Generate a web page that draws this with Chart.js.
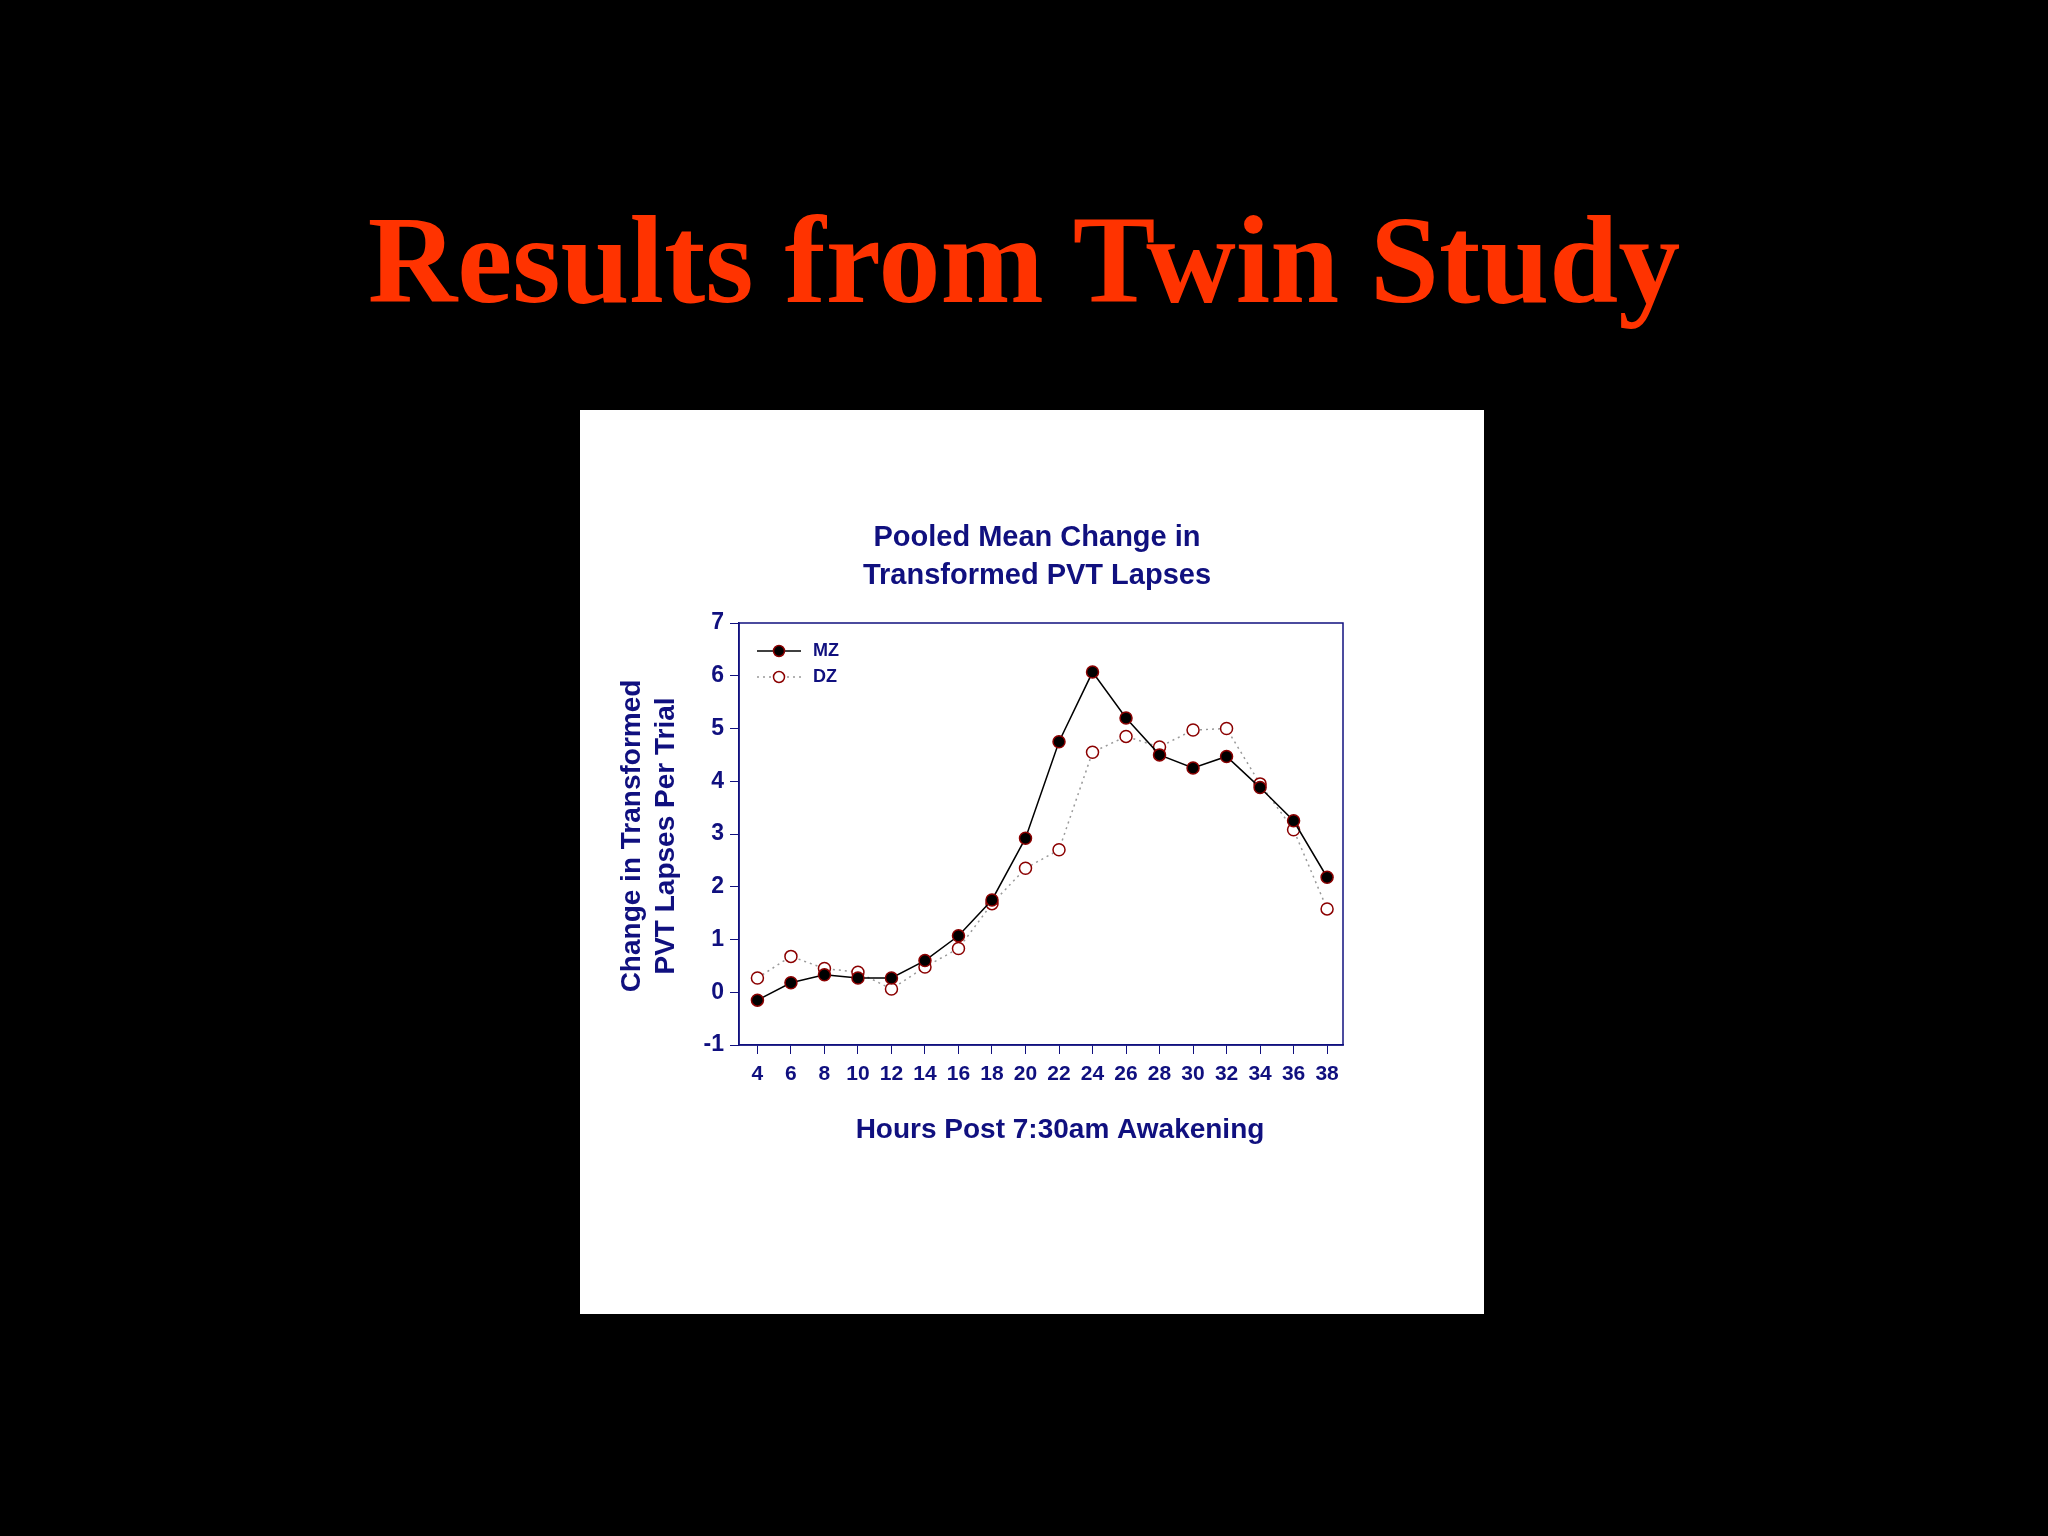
<!DOCTYPE html>
<html>
<head>
<meta charset="utf-8">
<script src="https://cdn.jsdelivr.net/npm/chart.js@4"></script>
<style>
  body { margin: 0; background: #000; width: 2048px; height: 1536px; position: relative; overflow: hidden; }
  h1 { position: absolute; left: 0; width: 2048px; top: 190px; margin: 0; text-align: center;
       font-family: "Liberation Serif", serif; font-weight: bold; font-size: 124px; color: #ff3300; }
  #box { position: absolute; left: 580px; top: 410px; width: 904px; height: 904px; background: #fff; }
</style>
</head>
<body>
<h1>Results from Twin Study</h1>
<div id="box"><canvas id="chart" width="904" height="904"></canvas></div>
<script>
// hours post awakening
var hours = [4, 6, 8, 10, 12, 14, 16, 18, 20, 22, 24, 26, 28, 30, 32, 34, 36, 38];
var mz = [-0.15, 0.18, 0.33, 0.27, 0.27, 0.6, 1.07, 1.75, 2.92, 4.75, 6.07, 5.2, 4.5, 4.25, 4.47, 3.88, 3.25, 2.18];
var dz = [0.27, 0.68, 0.45, 0.38, 0.06, 0.48, 0.83, 1.68, 2.35, 2.7, 4.55, 4.85, 4.65, 4.97, 5.0, 3.95, 3.08, 1.58];
var yTicks = [-1, 0, 1, 2, 3, 4, 5, 6, 7];

var navy = '#10107f';
var font = '"Liberation Sans", Arial, sans-serif';

function toPoints(vals) {
  return vals.map(function (v, i) { return { x: hours[i], y: v }; });
}

// draws the frame, the titles and the legend inside the plot
var decor = {
  id: 'decor',
  afterDraw: function (chart) {
    var ctx = chart.ctx, a = chart.chartArea;
    ctx.save();
    ctx.strokeStyle = navy;
    ctx.lineWidth = 1.5;
    ctx.strokeRect(a.left, a.top, a.right - a.left, a.bottom - a.top);

    ctx.fillStyle = navy;
    ctx.textAlign = 'center';
    ctx.textBaseline = 'middle';
    ctx.font = 'bold 29px ' + font;
    ctx.fillText('Pooled Mean Change in', 457, 128);
    ctx.fillText('Transformed PVT Lapses', 457, 166);
    ctx.font = 'bold 28px ' + font;
    ctx.fillText('Hours Post 7:30am Awakening', 480, 720);

    ctx.save();
    ctx.translate(52, 426);
    ctx.rotate(-Math.PI / 2);
    ctx.fillText('Change in Transformed', 0, 0);
    ctx.fillText('PVT Lapses Per Trial', 0, 34);
    ctx.restore();

    // legend
    var lx = a.left + 18, ly = a.top + 28;
    ctx.strokeStyle = '#000';
    ctx.lineWidth = 1.5;
    ctx.beginPath(); ctx.moveTo(lx, ly); ctx.lineTo(lx + 44, ly); ctx.stroke();
    ctx.beginPath(); ctx.arc(lx + 22, ly, 5.5, 0, 2 * Math.PI);
    ctx.fillStyle = '#000'; ctx.fill(); ctx.strokeStyle = '#8b0000'; ctx.stroke();
    ctx.setLineDash([2, 4]);
    ctx.strokeStyle = '#999';
    ctx.beginPath(); ctx.moveTo(lx, ly + 26); ctx.lineTo(lx + 44, ly + 26); ctx.stroke();
    ctx.setLineDash([]);
    ctx.beginPath(); ctx.arc(lx + 22, ly + 26, 5.5, 0, 2 * Math.PI);
    ctx.fillStyle = '#fff'; ctx.fill(); ctx.strokeStyle = '#8b0000'; ctx.stroke();
    ctx.fillStyle = navy;
    ctx.textAlign = 'left';
    ctx.font = 'bold 18px ' + font;
    ctx.fillText('MZ', lx + 56, ly);
    ctx.fillText('DZ', lx + 56, ly + 26);
    ctx.restore();
  }
};

new Chart(document.getElementById('chart'), {
  type: 'line',
  data: {
    datasets: [{
      label: 'MZ',
      data: toPoints(mz),
      borderColor: '#000',
      borderWidth: 1.5,
      pointBackgroundColor: '#000',
      pointBorderColor: '#8b0000',
      pointBorderWidth: 1.5,
      pointRadius: 6,
      tension: 0
    }, {
      label: 'DZ',
      data: toPoints(dz),
      borderColor: '#999',
      borderWidth: 1.5,
      borderDash: [2, 4],
      pointBackgroundColor: '#fff',
      pointBorderColor: '#8b0000',
      pointBorderWidth: 1.5,
      pointRadius: 6,
      tension: 0
    }]
  },
  options: {
    responsive: false,
    animation: false,
    layout: { padding: { left: 0, top: 213, right: 141, bottom: 0 } },
    plugins: { legend: { display: false }, tooltip: { enabled: false } },
    scales: {
      x: {
        type: 'linear',
        min: 2.9,
        max: 38.95,
        afterFit: function (s) { s.height = 269; },
        afterBuildTicks: function (s) { s.ticks = hours.map(function (h) { return { value: h }; }); },
        grid: { drawOnChartArea: false, color: navy, tickLength: 9 },
        border: { color: navy, width: 1.5 },
        ticks: { color: navy, font: { family: font, size: 21, weight: 'bold' }, padding: 8, maxRotation: 0, autoSkip: false }
      },
      y: {
        min: -1,
        max: 7,
        afterFit: function (s) { s.width = 159; },
        afterBuildTicks: function (s) { s.ticks = yTicks.map(function (v) { return { value: v }; }); },
        grid: { drawOnChartArea: false, color: navy, tickLength: 9 },
        border: { color: navy, width: 1.5 },
        ticks: { color: navy, font: { family: font, size: 23, weight: 'bold' }, padding: 6 }
      }
    }
  },
  plugins: [decor]
});
</script>
</body>
</html>
